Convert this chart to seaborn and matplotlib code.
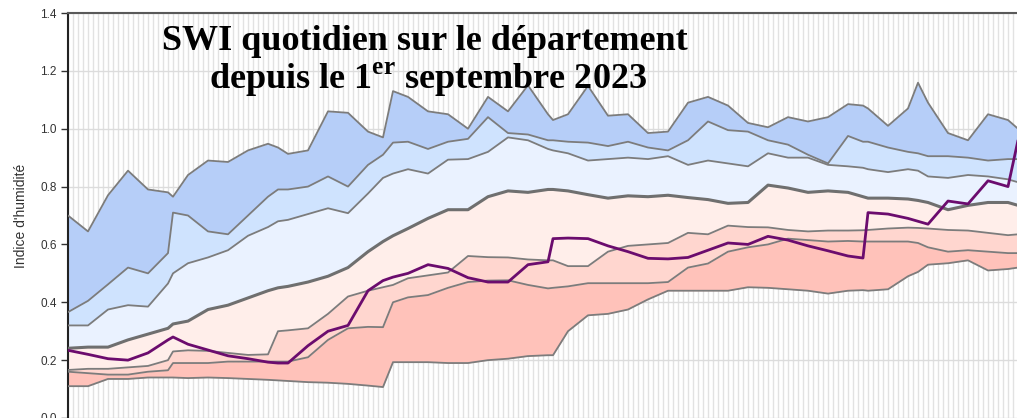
import pandas as pd
import matplotlib
matplotlib.use('Agg')
import matplotlib.pyplot as plt
import matplotlib.dates as mdates
import matplotlib.ticker as mtick
import seaborn as sns

start_date = '2023-09-01'
days = [0, 4, 8, 12, 16, 20, 21, 24, 28, 32, 36, 40, 42, 44, 48, 52, 56, 60, 63, 65, 68, 72, 76, 80, 84, 88,
        92, 96, 97, 100, 104, 108, 112, 116, 120, 124, 128, 132, 136, 140, 144, 148, 152, 156, 159, 160, 164,
        168, 170, 172, 176, 180, 184, 188, 190]

swi_max = [0.70, 0.645, 0.77, 0.855, 0.79, 0.78, 0.765, 0.84, 0.89, 0.885, 0.925, 0.948, 0.935, 0.913, 0.925,
           1.06, 1.055, 0.99, 0.97, 1.13, 1.11, 1.06, 1.05, 1.0, 1.11, 1.06, 1.15, 1.05, 1.03, 1.05, 1.148, 1.045,
           1.05, 0.985, 0.99, 1.09, 1.11, 1.08, 1.02, 1.005, 1.04, 1.025, 1.04, 1.085, 1.08, 1.07, 1.01, 1.07,
           1.159, 1.09, 0.985, 0.96, 1.05, 1.03, 1.0]
swi_q2 = [0.366, 0.405, 0.462, 0.52, 0.50, 0.57, 0.71, 0.70, 0.645, 0.635, 0.70, 0.765, 0.79, 0.79, 0.80,
          0.835, 0.80, 0.875, 0.91, 0.952, 0.955, 0.93, 0.955, 0.965, 1.04, 0.985, 0.98, 0.96, 0.96, 0.955, 0.952,
          0.94, 0.955, 0.935, 0.925, 0.96, 1.025, 0.995, 0.99, 0.96, 0.945, 0.91, 0.88, 0.975, 0.955, 0.955,
          0.935, 0.92, 0.915, 0.905, 0.905, 0.90, 0.89, 0.895, 0.895]
swi_q3 = [0.32, 0.32, 0.375, 0.39, 0.385, 0.465, 0.50, 0.535, 0.555, 0.58, 0.63, 0.66, 0.68, 0.685, 0.705,
          0.725, 0.708, 0.776, 0.83, 0.845, 0.86, 0.845, 0.893, 0.895, 0.92, 0.97, 0.96, 0.93, 0.925, 0.915, 0.89,
          0.895, 0.90, 0.895, 0.905, 0.875, 0.89, 0.88, 0.87, 0.915, 0.90, 0.90, 0.875, 0.87, 0.865, 0.86, 0.85,
          0.86, 0.855, 0.835, 0.83, 0.84, 0.835, 0.825, 0.815]
swi_median = [0.241, 0.245, 0.245, 0.27, 0.29, 0.31, 0.325, 0.335, 0.375, 0.39, 0.415, 0.44, 0.45, 0.455, 0.47,
              0.49, 0.52, 0.575, 0.61, 0.63, 0.655, 0.69, 0.72, 0.72, 0.765, 0.785, 0.78, 0.79, 0.79, 0.785, 0.772,
              0.76, 0.768, 0.765, 0.77, 0.762, 0.755, 0.742, 0.745, 0.805, 0.795, 0.78, 0.785, 0.78, 0.765, 0.76,
              0.76, 0.757, 0.752, 0.745, 0.72, 0.735, 0.745, 0.745, 0.735]
swi_q5 = [0.166, 0.17, 0.17, 0.175, 0.18, 0.2, 0.23, 0.234, 0.232, 0.225, 0.218, 0.22, 0.30, 0.303, 0.31,
          0.36, 0.42, 0.44, 0.452, 0.46, 0.483, 0.493, 0.503, 0.56, 0.556, 0.555, 0.548, 0.545, 0.545, 0.525, 0.525,
          0.575, 0.595, 0.60, 0.605, 0.64, 0.635, 0.665, 0.66, 0.659, 0.65, 0.645, 0.648, 0.648, 0.649, 0.65,
          0.655, 0.658, 0.657, 0.655, 0.65, 0.648, 0.64, 0.632, 0.635]
swi_q6 = [0.16, 0.155, 0.15, 0.15, 0.16, 0.165, 0.19, 0.19, 0.19, 0.195, 0.195, 0.195, 0.195, 0.195, 0.21,
          0.27, 0.31, 0.315, 0.314, 0.40, 0.417, 0.425, 0.45, 0.47, 0.475, 0.476, 0.46, 0.448, 0.45, 0.455, 0.466,
          0.466, 0.466, 0.466, 0.47, 0.52, 0.534, 0.575, 0.59, 0.60, 0.62, 0.615, 0.61, 0.612, 0.61, 0.61, 0.61,
          0.61, 0.605, 0.59, 0.575, 0.58, 0.575, 0.57, 0.57]
swi_min = [0.11, 0.11, 0.135, 0.135, 0.14, 0.14, 0.14, 0.138, 0.14, 0.138, 0.135, 0.132, 0.13, 0.128, 0.124,
           0.122, 0.118, 0.112, 0.107, 0.193, 0.193, 0.193, 0.19, 0.19, 0.20, 0.205, 0.214, 0.217, 0.217, 0.30,
           0.355, 0.36, 0.375, 0.41, 0.44, 0.44, 0.44, 0.44, 0.452, 0.45, 0.445, 0.44, 0.43, 0.44, 0.442, 0.44,
           0.445, 0.49, 0.505, 0.53, 0.535, 0.545, 0.51, 0.515, 0.52]
swi_2023 = [0.234, 0.22, 0.205, 0.20, 0.225, 0.27, 0.28, 0.255, 0.235, 0.215, 0.205, 0.193, 0.19, 0.19, 0.25,
            0.30, 0.32, 0.44, 0.475, 0.487, 0.50, 0.53, 0.517, 0.485, 0.47, 0.47, 0.53, 0.54, 0.62, 0.622, 0.62,
            0.595, 0.575, 0.552, 0.55, 0.555, 0.58, 0.605, 0.60, 0.628, 0.615, 0.595, 0.578, 0.56, 0.553, 0.71,
            0.705, 0.69, 0.68, 0.67, 0.75, 0.74, 0.82, 0.80, 0.96]

df = pd.DataFrame({'date': pd.Timestamp(start_date) + pd.to_timedelta(days, unit='D'),
                   'max': swi_max, 'q2': swi_q2, 'q3': swi_q3, 'median': swi_median,
                   'q5': swi_q5, 'q6': swi_q6, 'min': swi_min, 'current': swi_2023})

sns.set_style('white')
plt.rcParams['font.family'] = ['Liberation Sans', 'DejaVu Sans']
plt.rcParams['mathtext.fontset'] = 'custom'
plt.rcParams['mathtext.bf'] = 'Liberation Serif:bold'
plt.rcParams['mathtext.rm'] = 'Liberation Serif:bold'

fig = plt.figure(figsize=(10.17, 4.18), dpi=100)
ax = fig.add_axes([68 / 1017, 0.0, 949 / 1017, 405 / 418])

# bands, top to bottom
bands = [('max', 'q2', '#b6cef8'), ('q2', 'q3', '#cfe3fe'), ('q3', 'median', '#eaf2ff'),
         ('median', 'q5', '#ffeeea'), ('q5', 'q6', '#ffd6cf'), ('q6', 'min', '#ffc2ba')]
for top, bottom, col in bands:
    ax.fill_between(df['date'], df[top], df[bottom], color=col, lw=0, zorder=2)

for name in ['max', 'q2', 'q3', 'q5', 'q6', 'min']:
    sns.lineplot(data=df, x='date', y=name, ax=ax, color='#7c7c7c', linewidth=1.3, zorder=3)
sns.lineplot(data=df, x='date', y='median', ax=ax, color='#6f6f6f', linewidth=2.2, zorder=3)
sns.lineplot(data=df, x='date', y='current', ax=ax, color='#6b0c6e', linewidth=2.0, zorder=4)

ax.set_xlim(pd.Timestamp(start_date), pd.Timestamp(start_date) + pd.Timedelta(days=189.8))
ax.set_ylim(0, 1.4)
ax.xaxis.set_major_locator(mdates.DayLocator())
ax.yaxis.set_major_locator(mtick.MultipleLocator(0.2))
ax.yaxis.set_major_formatter(mtick.FormatStrFormatter('%.1f'))
ax.set_axisbelow(True)
ax.grid(axis='x', color='#e2e2e2', linewidth=1.0, zorder=0)
ax.grid(axis='y', color='#dcdcdc', linewidth=1.0, zorder=0)
ax.tick_params(axis='x', bottom=False, labelbottom=False)
ax.tick_params(axis='y', left=True, length=5, width=1, color='#333333', labelsize=8.5, labelcolor='#333333', pad=3)
ax.set_xlabel('')
ax.set_ylabel("Indice d'humidité", fontsize=10, color='#333333', labelpad=9)

for side in ['right', 'bottom']:
    ax.spines[side].set_visible(False)
ax.spines['top'].set_color('#5a5a5a')
ax.spines['top'].set_linewidth(1.5)
ax.spines['left'].set_color('#222222')
ax.spines['left'].set_linewidth(1.5)

title_font = dict(family='Liberation Serif', fontweight='bold', fontsize=26, color='black', ha='center', va='center')
fig.text(425 / 1017, 1 - 42 / 418, 'SWI quotidien sur le département', **title_font)
fig.text(428 / 1017, 1 - 80 / 418, r'depuis le 1$^{\mathbf{er}}$ septembre 2023', **title_font)

plt.savefig('out.png', dpi=100)
